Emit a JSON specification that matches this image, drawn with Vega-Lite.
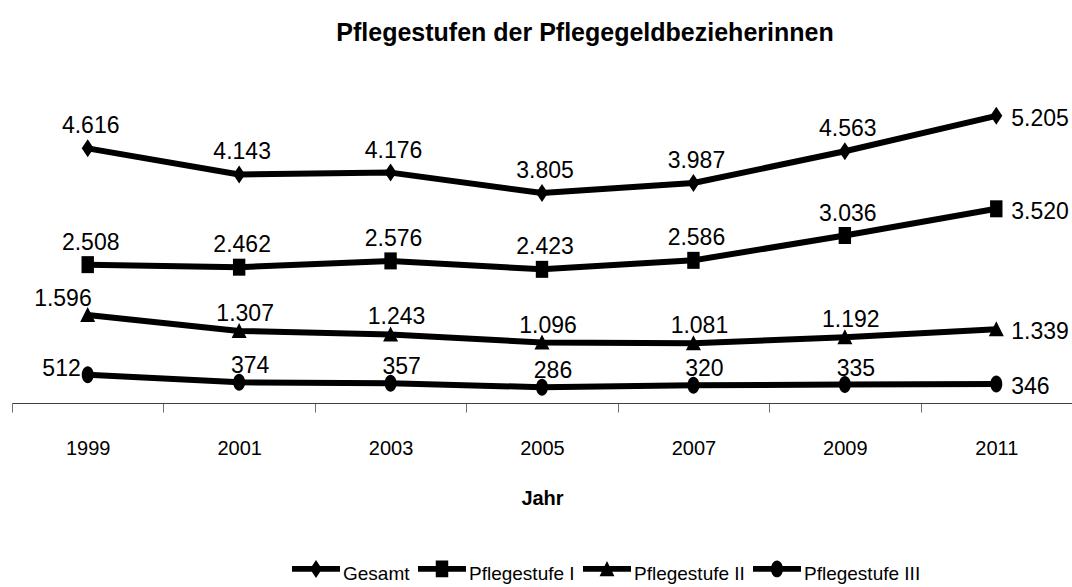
{
  "$schema": "https://vega.github.io/schema/vega-lite/v6.json",
  "width": 1060,
  "height": 331,
  "autosize": {"type": "none"},
  "padding": {"left": 12, "top": 72, "right": 0, "bottom": 184},
  "background": "white",
  "title": {
    "text": "Pflegestufen der Pflegegeldbezieherinnen",
    "font": "Liberation Sans",
    "fontSize": 25,
    "fontWeight": "bold",
    "color": "black",
    "anchor": "middle",
    "dx": 43,
    "baseline": "alphabetic",
    "offset": 6
  },
  "config": {
    "view": {"stroke": null},
    "font": "Liberation Sans",
    "locale": {"number": {"decimal": ",", "thousands": ".", "grouping": [3], "currency": ["", " €"]}}
  },
  "data": {
    "values": [
      {"year": "1999", "series": "Gesamt", "value": 4616},
      {"year": "2001", "series": "Gesamt", "value": 4143},
      {"year": "2003", "series": "Gesamt", "value": 4176},
      {"year": "2005", "series": "Gesamt", "value": 3805},
      {"year": "2007", "series": "Gesamt", "value": 3987},
      {"year": "2009", "series": "Gesamt", "value": 4563},
      {"year": "2011", "series": "Gesamt", "value": 5205},
      {"year": "1999", "series": "Pflegestufe I", "value": 2508},
      {"year": "2001", "series": "Pflegestufe I", "value": 2462},
      {"year": "2003", "series": "Pflegestufe I", "value": 2576},
      {"year": "2005", "series": "Pflegestufe I", "value": 2423},
      {"year": "2007", "series": "Pflegestufe I", "value": 2586},
      {"year": "2009", "series": "Pflegestufe I", "value": 3036},
      {"year": "2011", "series": "Pflegestufe I", "value": 3520},
      {"year": "1999", "series": "Pflegestufe II", "value": 1596},
      {"year": "2001", "series": "Pflegestufe II", "value": 1307},
      {"year": "2003", "series": "Pflegestufe II", "value": 1243},
      {"year": "2005", "series": "Pflegestufe II", "value": 1096},
      {"year": "2007", "series": "Pflegestufe II", "value": 1081},
      {"year": "2009", "series": "Pflegestufe II", "value": 1192},
      {"year": "2011", "series": "Pflegestufe II", "value": 1339},
      {"year": "1999", "series": "Pflegestufe III", "value": 512},
      {"year": "2001", "series": "Pflegestufe III", "value": 374},
      {"year": "2003", "series": "Pflegestufe III", "value": 357},
      {"year": "2005", "series": "Pflegestufe III", "value": 286},
      {"year": "2007", "series": "Pflegestufe III", "value": 320},
      {"year": "2009", "series": "Pflegestufe III", "value": 335},
      {"year": "2011", "series": "Pflegestufe III", "value": 346}
    ]
  },
  "encoding": {
    "x": {
      "field": "year",
      "type": "ordinal",
      "scale": {"type": "band", "paddingInner": 0, "paddingOuter": 0},
      "axis": {
        "title": "Jahr",
        "titleFont": "Liberation Sans",
        "titleFontSize": 20,
        "titleFontWeight": "bold",
        "titleColor": "black",
        "titlePadding": 30,
        "labelAngle": 0,
        "labelFont": "Liberation Sans",
        "labelFontSize": 20,
        "labelColor": "black",
        "labelPadding": 26,
        "tickBand": "extent",
        "tickSize": 9,
        "tickColor": "#707070",
        "domainColor": "#404040",
        "domainWidth": 1.2,
        "grid": false
      }
    },
    "y": {
      "field": "value",
      "type": "quantitative",
      "scale": {"domain": [0, 6000], "nice": false, "zero": true},
      "axis": null
    }
  },
  "layer": [
    {
      "mark": {"type": "line", "color": "black", "strokeWidth": 6, "strokeJoin": "round"},
      "encoding": {"detail": {"field": "series", "type": "nominal"}}
    },
    {
      "mark": {"type": "point", "filled": true, "color": "black", "opacity": 1, "size": 400},
      "encoding": {
        "shape": {
          "field": "series",
          "type": "nominal",
          "scale": {
            "domain": ["Gesamt", "Pflegestufe I", "Pflegestufe II", "Pflegestufe III"],
            "range": [
              "M0,-0.9L0.6,0L0,0.9L-0.6,0Z",
              "M-0.62,-0.85L0.62,-0.85L0.62,0.85L-0.62,0.85Z",
              "M0,-0.8L0.75,0.7L-0.75,0.7Z",
              "M-0.6,0A0.6,0.85 0 1,1 0.6,0A0.6,0.85 0 1,1 -0.6,0Z"
            ]
          },
          "legend": null
        }
      }
    },
    {
      "transform": [{"filter": "false"}],
      "mark": {"type": "point", "filled": true, "color": "black", "opacity": 1},
      "encoding": {
        "shape": {
          "field": "series",
          "type": "nominal",
          "scale": {
            "domain": ["Gesamt", "Pflegestufe I", "Pflegestufe II", "Pflegestufe III"],
            "range": [
              "M-1,-0.33L1,-0.33L1,-0.09L-1,-0.09Z M0,-0.585L0.25,-0.21L0,0.165L-0.25,-0.21Z",
              "M-1,-0.33L1,-0.33L1,-0.09L-1,-0.09Z M-0.26,-0.56L0.26,-0.56L0.26,0.14L-0.26,0.14Z",
              "M-1,-0.33L1,-0.33L1,-0.09L-1,-0.09Z M0,-0.54L0.31,0.09L-0.31,0.09Z",
              "M-1,-0.33L1,-0.33L1,-0.09L-1,-0.09Z M-0.25,-0.21A0.25,0.35 0 1,1 0.25,-0.21A0.25,0.35 0 1,1 -0.25,-0.21Z"
            ]
          },
          "legend": {
            "title": null,
            "orient": "none",
            "legendX": 280,
            "legendY": 478,
            "direction": "horizontal",
            "columns": 4,
            "symbolSize": 2304,
            "symbolFillColor": "black",
            "symbolStrokeColor": "black",
            "symbolStrokeWidth": 0,
            "symbolOpacity": 1,
            "labelFont": "Liberation Sans",
            "labelFontSize": 19,
            "labelColor": "black",
            "labelOffset": 3,
            "columnPadding": 8
          }
        }
      }
    },
    {
      "transform": [{"filter": "(datum.series === 'Gesamt' || datum.series === 'Pflegestufe I') && datum.year !== '2011'"}],
      "mark": {"type": "text", "align": "center", "baseline": "alphabetic", "dx": 3, "dy": -15, "fontSize": 23, "color": "black", "font": "Liberation Sans"},
      "encoding": {"text": {"field": "value", "type": "quantitative", "format": ","}}
    },
    {
      "transform": [{"filter": "datum.series === 'Pflegestufe II' && datum.year !== '2011' && datum.year !== '1999'"}],
      "mark": {"type": "text", "align": "center", "baseline": "alphabetic", "dx": 6, "dy": -10, "fontSize": 23, "color": "black", "font": "Liberation Sans"},
      "encoding": {"text": {"field": "value", "type": "quantitative", "format": ","}}
    },
    {
      "transform": [{"filter": "datum.series === 'Pflegestufe III' && datum.year !== '2011' && datum.year !== '1999'"}],
      "mark": {"type": "text", "align": "center", "baseline": "alphabetic", "dx": 11, "dy": -9, "fontSize": 23, "color": "black", "font": "Liberation Sans"},
      "encoding": {"text": {"field": "value", "type": "quantitative", "format": ","}}
    },
    {
      "transform": [{"filter": "datum.year === '2011'"}],
      "mark": {"type": "text", "align": "left", "baseline": "middle", "dx": 15, "dy": 3, "fontSize": 23, "color": "black", "font": "Liberation Sans"},
      "encoding": {"text": {"field": "value", "type": "quantitative", "format": ","}}
    },
    {
      "transform": [{"filter": "datum.series === 'Pflegestufe II' && datum.year === '1999'"}],
      "mark": {"type": "text", "align": "right", "baseline": "alphabetic", "dx": 4, "dy": -9, "fontSize": 23, "color": "black", "font": "Liberation Sans"},
      "encoding": {"text": {"field": "value", "type": "quantitative", "format": ","}}
    },
    {
      "transform": [{"filter": "datum.series === 'Pflegestufe III' && datum.year === '1999'"}],
      "mark": {"type": "text", "align": "right", "baseline": "middle", "dx": -7, "dy": -6, "fontSize": 23, "color": "black", "font": "Liberation Sans"},
      "encoding": {"text": {"field": "value", "type": "quantitative", "format": ","}}
    }
  ],
  "resolve": {"scale": {"shape": "independent"}, "legend": {"shape": "independent"}}
}
